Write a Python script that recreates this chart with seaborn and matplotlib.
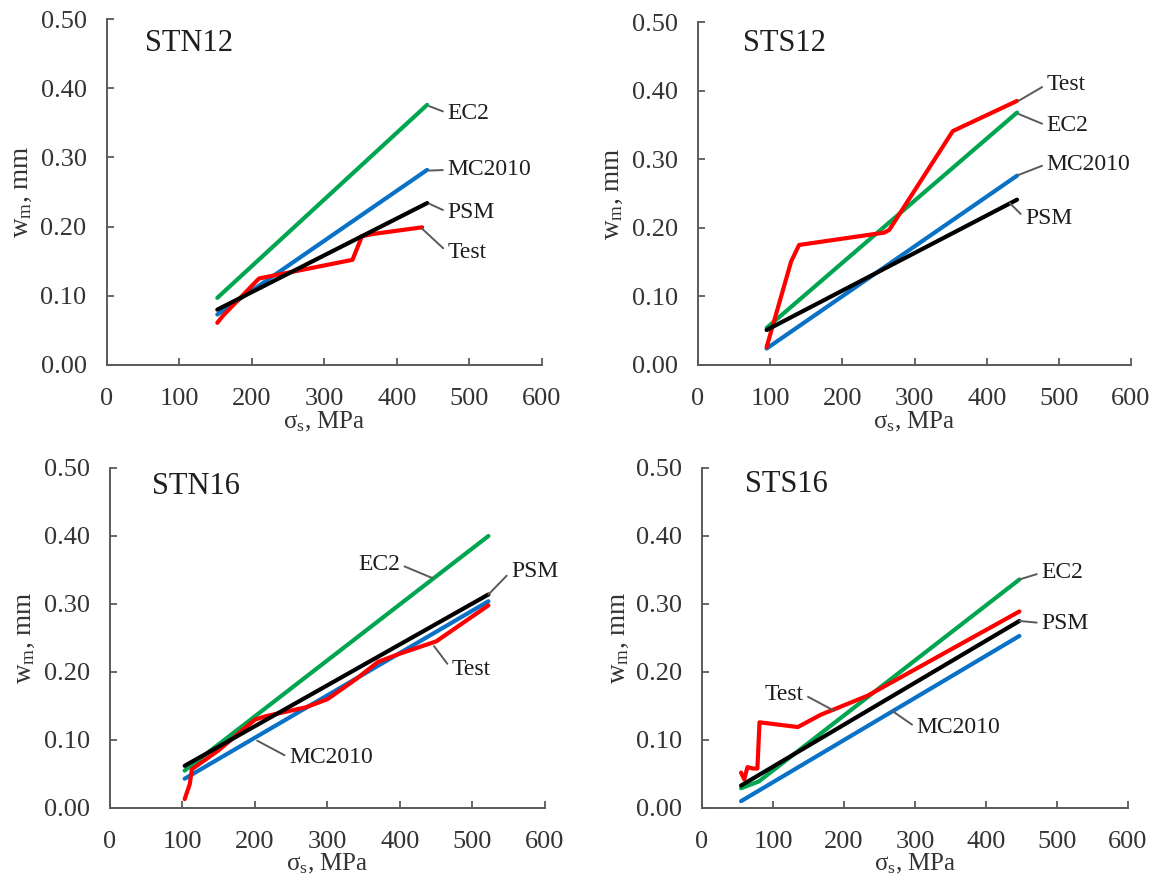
import numpy as np
import pandas as pd
import matplotlib
matplotlib.use("Agg")
import matplotlib.pyplot as plt
import seaborn as sns

# ---- data ----
# STN12
stn12_model_x = [152.5, 442]
stn12_ec2 = [0.097, 0.376]
stn12_mc2010 = [0.073, 0.282]
stn12_psm = [0.080, 0.234]
stn12_test_x = [152.5, 161, 210, 224, 339, 352, 365, 435]
stn12_test = [0.061, 0.072, 0.125, 0.128, 0.152, 0.186, 0.189, 0.199]

# STS12
sts12_model_x = [95, 442]
sts12_ec2 = [0.054, 0.368]
sts12_mc2010 = [0.024, 0.276]
sts12_psm = [0.051, 0.241]
sts12_test_x = [95, 129, 140, 258, 265, 353, 442]
sts12_test = [0.026, 0.151, 0.175, 0.193, 0.197, 0.341, 0.385]

# STN16
stn16_model_x = [103, 522]
stn16_ec2 = [0.055, 0.400]
stn16_mc2010 = [0.043, 0.304]
stn16_psm = [0.062, 0.314]
stn16_test_x = [103, 110, 113, 150, 200, 215, 270, 300, 340, 370, 400, 450, 522]
stn16_test = [0.013, 0.035, 0.057, 0.085, 0.130, 0.135, 0.148, 0.160, 0.190, 0.215, 0.227, 0.245, 0.298]

# STS16
sts16_model_x = [55, 447]
sts16_ec2_x = [55, 80, 447]
sts16_ec2 = [0.029, 0.039, 0.336]
sts16_mc2010 = [0.010, 0.253]
sts16_psm = [0.033, 0.275]
sts16_test_x = [55, 59.5, 64, 72, 78, 81, 135, 167, 186, 233, 447]
sts16_test = [0.052, 0.042, 0.060, 0.058, 0.058, 0.126, 0.119, 0.137, 0.145, 0.165, 0.289]

panel_names = ["STN12", "STS12", "STN16", "STS16"]
series = {
    "STN12": {"EC2": (stn12_model_x, stn12_ec2), "MC2010": (stn12_model_x, stn12_mc2010),
              "PSM": (stn12_model_x, stn12_psm), "Test": (stn12_test_x, stn12_test)},
    "STS12": {"EC2": (sts12_model_x, sts12_ec2), "MC2010": (sts12_model_x, sts12_mc2010),
              "PSM": (sts12_model_x, sts12_psm), "Test": (sts12_test_x, sts12_test)},
    "STN16": {"EC2": (stn16_model_x, stn16_ec2), "MC2010": (stn16_model_x, stn16_mc2010),
              "PSM": (stn16_model_x, stn16_psm), "Test": (stn16_test_x, stn16_test)},
    "STS16": {"EC2": (sts16_ec2_x, sts16_ec2), "MC2010": (sts16_model_x, sts16_mc2010),
              "PSM": (sts16_model_x, sts16_psm), "Test": (sts16_test_x, sts16_test)},
}

colors = {"EC2": "#00a54f", "MC2010": "#0a72c6", "PSM": "#000000", "Test": "#ff0000"}
draw_order = ["EC2", "MC2010", "Test", "PSM"]

# label placement: (text, point on line, text point, alignment)
labels = {
    "STN12": [("EC2", (445, 0.374), (470, 0.364), "left"),
              ("MC2010", (445, 0.281), (470, 0.282), "left"),
              ("PSM", (445, 0.233), (470, 0.221), "left"),
              ("Test", (435, 0.197), (470, 0.163), "left")],
    "STS12": [("Test", (444, 0.385), (483, 0.409), "left"),
              ("EC2", (444, 0.366), (483, 0.349), "left"),
              ("MC2010", (444, 0.277), (483, 0.293), "left"),
              ("PSM", (432, 0.236), (453, 0.214), "left")],
    "STN16": [("EC2", (445, 0.338), (400, 0.358), "right"),
              ("PSM", (522, 0.314), (553, 0.348), "left"),
              ("Test", (447, 0.238), (471, 0.204), "left"),
              ("MC2010", (203, 0.099), (247, 0.074), "left")],
    "STS16": [("EC2", (447, 0.336), (478, 0.346), "left"),
              ("PSM", (447, 0.275), (478, 0.272), "left"),
              ("Test", (186, 0.143), (143, 0.167), "right"),
              ("MC2010", (269, 0.142), (302, 0.118), "left")],
}

axes_pos = {
    "STN12": [0.0917, 0.5857, 0.3737, 0.3927],
    "STS12": [0.5997, 0.5857, 0.3720, 0.3893],
    "STN16": [0.0945, 0.0829, 0.3737, 0.3859],
    "STS16": [0.6031, 0.0829, 0.3660, 0.3859],
}
title_pos = {
    "STN12": (0.088, 0.928),
    "STS12": (0.104, 0.936),
    "STN16": (0.097, 0.945),
    "STS16": (0.100, 0.950),
}

sns.set_style("ticks")
plt.rcParams["font.family"] = ["Liberation Serif", "DejaVu Serif"]
plt.rcParams["mathtext.fontset"] = "custom"
plt.rcParams["mathtext.rm"] = "Liberation Serif"

gray = "#5a5a5a"
fig = plt.figure(figsize=(11.64, 8.81), dpi=100)

for name in panel_names:
    ax = fig.add_axes(axes_pos[name])
    rows = []
    for model, (xs, ys) in series[name].items():
        for xv, yv in zip(xs, ys):
            rows.append({"stress": xv, "width": yv, "model": model})
    df = pd.DataFrame(rows)
    for model in draw_order:
        sub = df[df["model"] == model]
        sns.lineplot(data=sub, x="stress", y="width", color=colors[model],
                     sort=False, estimator=None, lw=3.0, ax=ax, legend=False)

    for text, pt, tpos, ha in labels[name]:
        ax.annotate(text, xy=pt, xytext=tpos, ha=ha, va="center", fontsize=17,
                    color="#1e1e1e",
                    arrowprops=dict(arrowstyle="-", color=gray, lw=1.4,
                                    shrinkA=1, shrinkB=0,
                                    relpos=(0, 0.5) if ha == "left" else (1, 0.5)))

    tx, ty = title_pos[name]
    ax.text(tx, ty, name, transform=ax.transAxes, fontsize=22,
            ha="left", va="center", color="#1e1e1e")

    ax.set_xlim(0, 600)
    ax.set_ylim(0, 0.5)
    ax.set_xticks(np.arange(0, 601, 100))
    ax.set_yticks(np.arange(0, 0.51, 0.1))
    ax.set_yticklabels([f"{v:.2f}" for v in np.arange(0, 0.51, 0.1)])
    ax.tick_params(axis="both", direction="in", length=5, width=1.3,
                   color=gray, labelsize=19, labelcolor="#333333")
    ax.tick_params(axis="x", pad=16.5)
    ax.tick_params(axis="y", pad=14.5)
    sns.despine(ax=ax)
    for s in ["left", "bottom"]:
        ax.spines[s].set_color(gray)
        ax.spines[s].set_linewidth(1.4)

    ax.set_xlabel("$\\mathregular{σ_s}$, MPa", fontsize=18, color="#333333")
    ax.set_ylabel("$\\mathregular{w_m}$, mm", fontsize=19.5, color="#333333")
    ax.xaxis.label.set_verticalalignment("center")
    ax.yaxis.label.set_verticalalignment("center")
    ax.xaxis.set_label_coords(0.5, -0.165)
    ax.yaxis.set_label_coords(-0.197, 0.5)

fig.savefig("out.png", dpi=100)
